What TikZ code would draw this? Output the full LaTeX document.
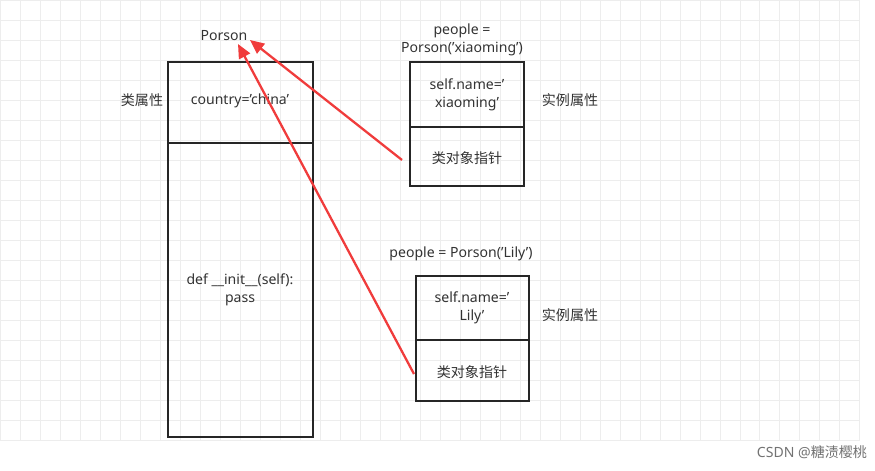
\documentclass[tikz,border=0pt]{standalone}
\usepackage{fontspec}
\setmainfont{Noto Sans}
\newfontfamily\cjk{Noto Sans CJK SC}
\newcommand\qq{\symbol{39}}
\usetikzlibrary{arrows.meta}
\definecolor{arr}{HTML}{F03C3C}
\begin{document}
\begin{tikzpicture}[x=0.02cm,y=-0.02cm,
  txt/.style={font=\fontsize{8}{10}\selectfont,text=black!80,align=center,inner sep=0},
  box/.style={draw=black!85,line width=1.2pt},
  ptr/.style={draw=arr,line width=1.3pt,-{Triangle[length=8pt,width=7pt]}}]
\useasboundingbox (0,0) rectangle (875,470);
\fill[white] (0,0) rectangle (875,470);
\draw[black!7,line width=0.4pt] (0,0) grid[step=0.4cm] (860,440);
% class
\draw[box] (168,62) rectangle (313,437);
\draw[box] (168,143) -- (313,143);
\node[txt] (cls) at (224,36) {Porson};
\node[txt] (ca) at (142,100) {\cjk 类属性};
\node[txt] (cc) at (240,101) {country=\qq china\qq};
\node[txt] (ci) at (240,290) {def \_\_init\_\_(self):\\pass};
% instance 1
\node[txt] (p1) at (462,40) {people =\\Porson(\qq xiaoming\qq)};
\draw[box] (410,62) rectangle (524,186);
\draw[box] (410,127) -- (524,127);
\node[txt] (n1) at (467,95) {self.name=\qq\\xiaoming\qq};
\node[txt] (q1) at (467,158) {\cjk 类对象指针};
\node[txt] (a1) at (570,100) {\cjk 实例属性};
% instance 2
\node[txt] (p2) at (461,254) {people = Porson(\qq Lily\qq)};
\draw[box] (416,276) rectangle (529,401);
\draw[box] (416,340) -- (529,340);
\node[txt] (n2) at (472,308) {self.name=\qq\\Lily\qq};
\node[txt] (q2) at (472,372) {\cjk 类对象指针};
\node[txt] (a2) at (570,315) {\cjk 实例属性};
% arrows
\coordinate (s1) at (402,160);
\coordinate (s2) at (414,374);
\coordinate (t1) at (250,40);
\coordinate (t2) at (238,44);
\draw[ptr] (s1) -- (t1);
\draw[ptr] (s2) -- (t2);
\node[txt,text=black!55] (wm) at (812,452) {CSDN @\cjk 糖渍樱桃};
\end{tikzpicture}
\end{document}
